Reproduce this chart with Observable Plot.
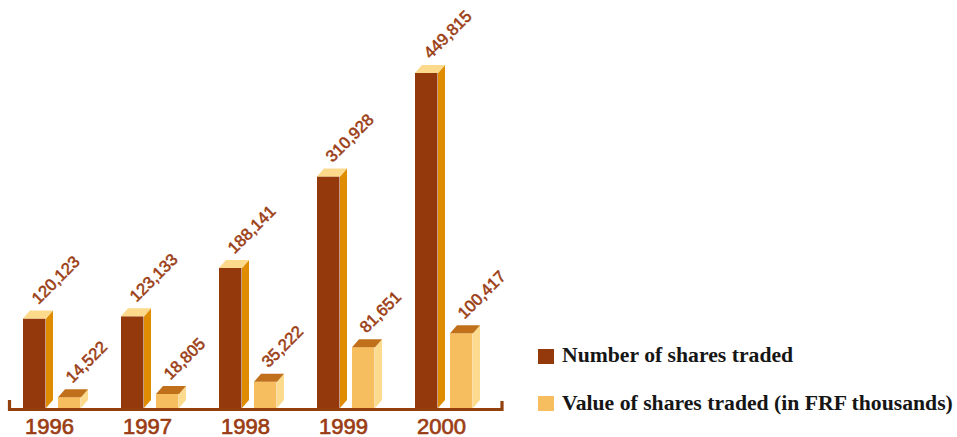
<!DOCTYPE html>
<html><head><meta charset="utf-8">
<script src="https://cdn.jsdelivr.net/npm/d3@7"></script>
<script src="https://cdn.jsdelivr.net/npm/@observablehq/plot@0.6"></script>
<style>
body{margin:0;background:#fff;}
#wrap{position:relative;width:957px;height:437px;overflow:hidden;}
.sw{position:absolute;left:538px;width:16px;height:15px;}
.lt{position:absolute;left:562px;font-family:"Liberation Serif",serif;font-weight:bold;font-size:21.7px;line-height:1;color:#161616;white-space:nowrap;}
</style></head><body><div id="wrap"></div>
<script>
// ---- data ----
const years = ["1996", "1997", "1998", "1999", "2000"];
const numberTraded = [120123, 123133, 188141, 310928, 449815];
const valueTraded = [14522, 18805, 35222, 81651, 100417];
const seriesNames = ["Number of shares traded", "Value of shares traded (in FRF thousands)"];

// ---- styles ----
const darkFront = "#93390b", darkSide = "#e08c00", darkTop = "#fcd98b";
const lightFront = "#f6be5e", lightSide = "#fddb8e", lightTop = "#c0701a";
const textColor = "#9b3d14", axisColor = "#93400f";
const DX = 7, DY = 8;

const rowsN = years.map((y, i) => ({year: y, value: numberTraded[i]}));
const rowsV = years.map((y, i) => ({year: y, value: valueTraded[i]}));
const fmt = d3.format(",");

const darkInset = 13, darkW = 23, lightInset = 48, lightW = 23;

const chart = Plot.plot({
  width: 957, height: 437,
  marginLeft: 9, marginRight: 455.5, marginTop: 0, marginBottom: 29,
  x: {domain: years, padding: 0, axis: null},
  y: {domain: [0, 449815], range: [408, 73], axis: null},
  style: {background: "transparent", overflow: "visible"},
  marks: [
    Plot.barY(rowsN, {x: "year", y: "value", fill: darkFront, insetLeft: darkInset, insetRight: 98.5 - darkInset - darkW}),
    Plot.barY(rowsV, {x: "year", y: "value", fill: lightFront, insetLeft: lightInset, insetRight: 98.5 - lightInset - lightW}),
    (index, scales, values, dims) => {
      const g = d3.create("svg:g");
      const x = scales.x, y = scales.y;
      const yb = y(0);
      function box(xl, w, v, side, top) {
        const x0 = xl, x1 = xl + w, yt = y(v);
        g.append("path").attr("d", `M${x1},${yb}V${yt}L${x1 + DX},${yt - DY}V${yb - DY}Z`).attr("fill", side);
        g.append("path").attr("d", `M${x0},${yt}L${x0 + DX},${yt - DY}H${x1 + DX}L${x1},${yt}Z`).attr("fill", top);
      }
      rowsN.forEach(d => box(x(d.year) + darkInset, darkW, d.value, darkSide, darkTop));
      rowsV.forEach(d => box(x(d.year) + lightInset, lightW, d.value, lightSide, lightTop));
      const [r0, r1] = x.range();
      g.append("path")
        .attr("d", `M${r0 + 0.5},${yb - 8}V${yb + 1.5}H${r1 + 0.5}V${yb - 7}`)
        .attr("fill", "none").attr("stroke", axisColor).attr("stroke-width", 3.2);
      return g.node();
    },
    Plot.text(rowsN, {x: "year", y: "value", text: d => fmt(d.value), rotate: -45, textAnchor: "start", lineAnchor: "bottom",
      dx: -21, dy: -14, fill: textColor, stroke: textColor, strokeWidth: 0.55, fontSize: 16.5, fontFamily: "Liberation Sans"}),
    Plot.text(rowsV, {x: "year", y: "value", text: d => fmt(d.value), rotate: -45, textAnchor: "start", lineAnchor: "bottom",
      dx: 13, dy: -14, fill: textColor, stroke: textColor, strokeWidth: 0.55, fontSize: 16.5, fontFamily: "Liberation Sans"}),
    Plot.text(years, {x: d => d, frameAnchor: "bottom", lineAnchor: "bottom", dx: -10, dy: 25, text: d => d,
      fill: textColor, stroke: textColor, strokeWidth: 0.7, fontSize: 22, fontFamily: "Liberation Sans"})
  ]
});

const wrap = document.getElementById("wrap");
wrap.appendChild(chart);
const legendColors = [darkFront, lightFront];
const swTops = [349, 396];
const txtTops = [345, 393];
seriesNames.forEach((name, i) => {
  const s = document.createElement("div");
  s.className = "sw"; s.style.top = swTops[i] + "px"; s.style.background = legendColors[i];
  const t = document.createElement("div");
  t.className = "lt"; t.style.top = txtTops[i] + "px"; t.textContent = name;
  wrap.appendChild(s); wrap.appendChild(t);
});
</script></body></html>
